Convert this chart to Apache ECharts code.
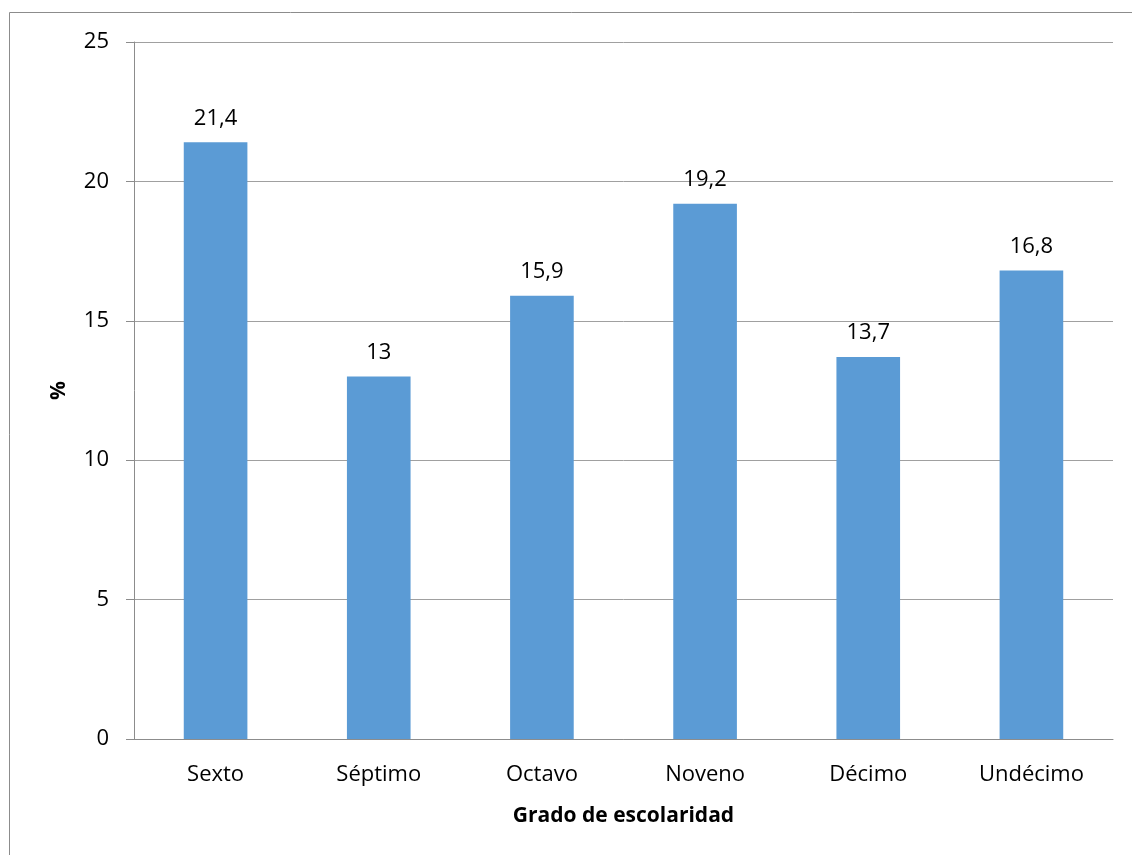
<!DOCTYPE html>
<html>
<head>
<meta charset="utf-8">
<script src="https://cdn.jsdelivr.net/npm/echarts@6/dist/echarts.min.js"></script>
<style>
  html, body { margin: 0; padding: 0; background: #fff; }
  #chart { width: 1132px; height: 855px; }
</style>
</head>
<body>
<div id="chart"></div>
<script>
// datos del gráfico
var grados = ['Sexto', 'Séptimo', 'Octavo', 'Noveno', 'Décimo', 'Undécimo'];
var porcentajes = [21.4, 13, 15.9, 19.2, 13.7, 16.8];

var chart = echarts.init(document.getElementById('chart'));

var fuente = '"Open Sans", "Noto Sans", sans-serif';

var options = {
    backgroundColor: '#fff',
    animation: false,
    textStyle: { fontFamily: fuente },
    graphic: [
        {
            type: 'rect',
            shape: { x: 9.5, y: 12.5, width: 1200, height: 900 },
            style: { fill: 'none', stroke: '#8c8c8c', lineWidth: 1 }
        }
    ],
    grid: {
        left: 134,
        right: 19,
        top: 42,
        bottom: 116
    },
    xAxis: {
        type: 'category',
        data: grados,
        name: 'Grado de escolaridad',
        nameLocation: 'middle',
        nameGap: 67,
        nameTextStyle: { fontSize: 21, fontWeight: 'bold', color: '#000', fontFamily: fuente },
        axisLine: { lineStyle: { color: '#8c8c8c', width: 1 } },
        axisTick: { show: false },
        axisLabel: { fontSize: 22, color: '#000', margin: 25, fontFamily: fuente }
    },
    yAxis: {
        type: 'value',
        min: 0,
        max: 25,
        interval: 5,
        name: '%',
        nameLocation: 'middle',
        nameGap: 64,
        nameRotate: 90,
        nameTextStyle: { fontSize: 21, fontWeight: 'bold', color: '#000', fontFamily: fuente },
        axisLine: { show: true, lineStyle: { color: '#8c8c8c', width: 1 } },
        axisTick: { show: true, length: 8, lineStyle: { color: '#8c8c8c' } },
        axisLabel: { fontSize: 22, color: '#000', margin: 25, fontFamily: fuente },
        splitLine: { lineStyle: { color: '#a0a0a0', width: 1 } }
    },
    series: [
        {
            type: 'bar',
            data: porcentajes,
            barWidth: '39%',
            itemStyle: { color: '#5b9bd5' },
            label: {
                show: true,
                position: 'top',
                distance: 13,
                fontSize: 22,
                color: '#000',
                fontFamily: fuente,
                formatter: function (p) {
                    return String(p.value).replace('.', ',');
                }
            }
        }
    ]
};

chart.setOption(options);
</script>
</body>
</html>
